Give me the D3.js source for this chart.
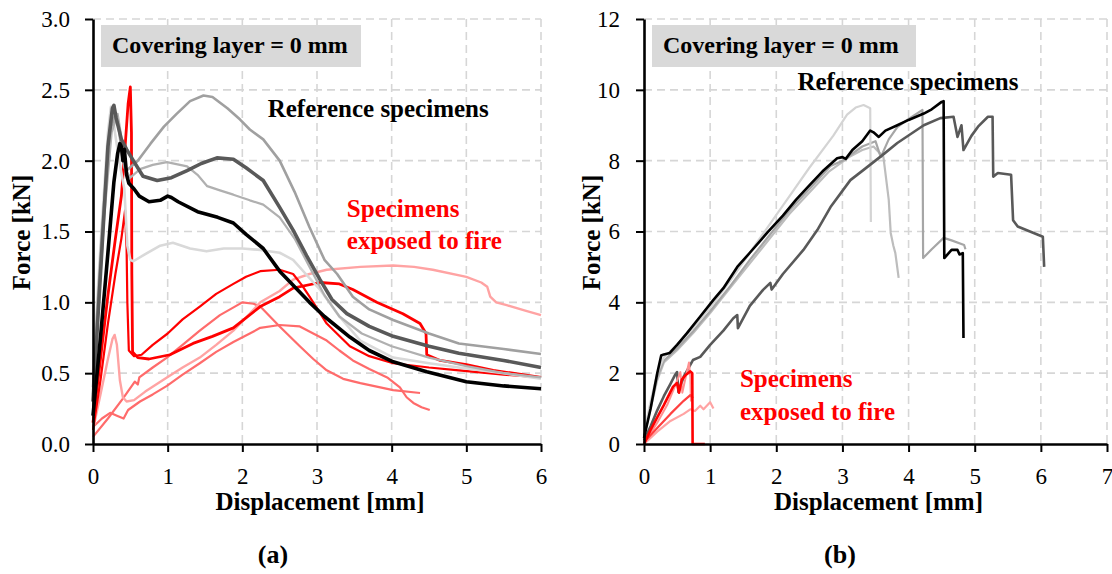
<!DOCTYPE html>
<html>
<head>
<meta charset="utf-8">
<script src="https://cdn.jsdelivr.net/npm/d3@7"></script>
<style>
  body { margin: 0; background: #fff; }
  svg text { font-family: "Liberation Serif", "Times New Roman", serif; }
</style>
</head>
<body>
<svg id="chart" width="1112" height="574"></svg>
<script>
// ---- panel (a): ticks ----
const xTicksA = [0, 1, 2, 3, 4, 5, 6];
const yTicksA = [0, 0.5, 1.0, 1.5, 2.0, 2.5, 3.0];

// ---- panel (a): reference specimens [displacement mm, force kN] ----
const refA_black = [[0,0.2],[0.1,0.75],[0.2,1.35],[0.28,1.85],[0.33,2.05],[0.36,2.12],[0.38,2.1],[0.4,2.0],[0.42,2.08],[0.45,1.9],[0.48,1.84],[0.55,1.8],[0.62,1.75],[0.75,1.71],[0.9,1.72],[1.0,1.75],[1.05,1.74],[1.14,1.71],[1.4,1.64],[1.67,1.6],[1.88,1.56],[2.05,1.48],[2.28,1.38],[2.5,1.22],[2.7,1.11],[2.9,1.0],[3.1,0.9],[3.44,0.755],[3.7,0.66],[4.02,0.58],[4.47,0.51],[5.0,0.44],[5.5,0.41],[6.0,0.39]];
const refA_dark = [[0,0.3],[0.1,1.2],[0.2,2.1],[0.26,2.37],[0.28,2.39],[0.31,2.3],[0.38,2.15],[0.45,2.08],[0.54,2.0],[0.67,1.89],[0.86,1.86],[1.05,1.88],[1.26,1.93],[1.45,1.98],[1.66,2.02],[1.88,2.01],[2.05,1.95],[2.28,1.86],[2.5,1.67],[2.68,1.51],[2.86,1.33],[3.04,1.16],[3.2,1.02],[3.4,0.92],[3.7,0.83],[4.02,0.76],[4.5,0.69],[4.9,0.64],[5.5,0.59],[6.0,0.54]];
const refA_mid1 = [[0,0.4],[0.12,1.5],[0.22,2.2],[0.3,2.33],[0.34,2.25],[0.4,2.0],[0.45,1.93],[0.6,2.0],[0.77,2.12],[0.95,2.24],[1.12,2.33],[1.3,2.42],[1.48,2.46],[1.6,2.45],[1.8,2.37],[1.97,2.29],[2.1,2.22],[2.28,2.15],[2.5,2.0],[2.7,1.78],[2.9,1.53],[3.1,1.3],[3.27,1.2],[3.48,1.04],[3.7,0.95],[4.02,0.875],[4.5,0.78],[4.9,0.71],[5.5,0.67],[6.0,0.635]];
const refA_mid2 = [[0,0.35],[0.15,1.6],[0.25,2.2],[0.33,2.33],[0.37,2.2],[0.42,1.95],[0.5,1.88],[0.63,1.94],[0.8,1.97],[0.99,1.99],[1.26,1.96],[1.4,1.9],[1.53,1.82],[1.7,1.79],[1.88,1.76],[2.1,1.72],[2.28,1.69],[2.5,1.6],[2.7,1.45],[2.9,1.25],[3.1,1.05],[3.3,0.9],[3.6,0.78],[4.0,0.69],[4.5,0.61],[5.0,0.55],[5.5,0.5],[6.0,0.47]];
const refA_light = [[0,0.5],[0.1,1.4],[0.2,2.2],[0.24,2.38],[0.28,2.25],[0.35,2.0],[0.42,1.8],[0.46,1.4],[0.5,1.3],[0.54,1.29],[0.7,1.34],[0.9,1.4],[1.07,1.42],[1.3,1.38],[1.52,1.36],[1.75,1.38],[2.0,1.38],[2.24,1.37],[2.5,1.35],[2.68,1.3],[2.85,1.2],[3.04,1.09],[3.3,0.9],[3.58,0.73],[4.02,0.61],[4.5,0.57],[4.9,0.54],[5.5,0.5],[6.0,0.46]];

// ---- panel (a): specimens exposed to fire ----
const fireA_spike = [[0,0.15],[0.1,0.6],[0.2,1.05],[0.3,1.45],[0.38,1.75],[0.43,2.1],[0.47,2.4],[0.5,2.52],[0.515,2.2],[0.52,1.2],[0.53,0.65],[0.6,0.61],[0.75,0.6],[1.03,0.63],[1.34,0.71],[1.6,0.76],[1.88,0.82],[2.24,0.97],[2.5,1.04],[2.68,1.1],[3.04,1.14],[3.3,1.13],[3.48,1.09],[3.8,1.0],[4.15,0.92],[4.38,0.85],[4.46,0.78],[4.47,0.63],[4.65,0.59],[5.0,0.56],[5.36,0.52],[6.0,0.47]];
const fireA_upper = [[0,0.1],[0.1,0.45],[0.2,0.85],[0.3,1.2],[0.38,1.45],[0.43,1.65],[0.44,1.5],[0.45,1.38],[0.46,1.0],[0.48,0.66],[0.55,0.62],[0.65,0.63],[0.8,0.7],[1.0,0.78],[1.2,0.88],[1.43,0.97],[1.65,1.06],[1.88,1.13],[2.05,1.18],[2.24,1.22],[2.5,1.23],[2.68,1.2],[2.8,1.12],[2.9,1.04],[3.13,0.85],[3.44,0.69],[3.7,0.62],[4.02,0.57],[4.5,0.54],[4.9,0.52],[5.5,0.49],[6.0,0.47]];
const fireA_pink = [[0,0.1],[0.1,0.35],[0.2,0.6],[0.26,0.74],[0.29,0.77],[0.32,0.7],[0.36,0.45],[0.4,0.33],[0.45,0.3],[0.55,0.31],[0.7,0.37],[0.99,0.47],[1.2,0.54],[1.43,0.61],[1.65,0.7],[1.88,0.8],[2.1,0.92],[2.24,1.0],[2.5,1.08],[2.68,1.16],[2.9,1.2],[3.13,1.23],[3.58,1.25],[4.02,1.26],[4.3,1.25],[4.55,1.23],[5.0,1.18],[5.2,1.14],[5.28,1.11],[5.32,1.04],[5.4,1.0],[5.54,0.98],[5.8,0.94],[6.0,0.91]];
const fireA_light1 = [[0,0.05],[0.2,0.18],[0.4,0.32],[0.56,0.44],[0.6,0.42],[0.62,0.47],[0.8,0.54],[0.99,0.61],[1.2,0.7],[1.43,0.8],[1.7,0.91],[2.0,1.0],[2.15,0.99],[2.24,0.97],[2.5,0.83],[2.77,0.69],[2.95,0.6],[3.13,0.52],[3.35,0.46],[3.58,0.43],[4.02,0.38],[4.38,0.36]];
const fireA_light2 = [[0,0.12],[0.12,0.18],[0.23,0.22],[0.32,0.2],[0.41,0.18],[0.47,0.24],[0.63,0.3],[0.8,0.35],[0.99,0.41],[1.2,0.49],[1.43,0.57],[1.65,0.65],[1.88,0.72],[2.1,0.78],[2.24,0.82],[2.5,0.84],[2.77,0.83],[2.95,0.78],[3.13,0.73],[3.3,0.66],[3.48,0.59],[3.7,0.53],[3.94,0.47],[4.11,0.4],[4.2,0.33],[4.29,0.29],[4.4,0.26],[4.51,0.24]];

// ---- panel (b): ticks ----
const xTicksB = [0, 1, 2, 3, 4, 5, 6, 7];
const yTicksB = [0, 2, 4, 6, 8, 10, 12];

// ---- panel (b): reference specimens ----
const refB_black = [[0,0.17],[0.1,1.0],[0.2,2.0],[0.26,2.5],[0.3,2.53],[0.39,2.57],[0.5,2.8],[0.65,3.13],[0.85,3.6],[1.05,4.07],[1.2,4.4],[1.41,5.0],[1.6,5.4],[1.86,5.96],[2.1,6.45],[2.3,6.9],[2.5,7.3],[2.7,7.7],[2.92,8.07],[3.0,8.1],[3.05,8.05],[3.15,8.3],[3.3,8.55],[3.42,8.85],[3.47,8.8],[3.55,8.67],[3.65,8.85],[3.83,9.0],[4.0,9.15],[4.23,9.33],[4.35,9.45],[4.5,9.66],[4.53,9.68],[4.54,5.25],[4.65,5.48],[4.74,5.48],[4.77,5.35],[4.82,5.39],[4.83,2.99]];
const refB_dark = [[0,0.1],[0.1,0.5],[0.2,0.95],[0.3,1.35],[0.4,1.7],[0.47,1.95],[0.5,2.03],[0.52,1.47],[0.6,1.9],[0.74,2.37],[0.85,2.46],[1.0,2.8],[1.2,3.2],[1.35,3.55],[1.41,3.64],[1.42,3.27],[1.6,3.9],[1.8,4.35],[1.91,4.55],[1.93,4.36],[2.1,4.8],[2.41,5.48],[2.62,6.04],[2.82,6.69],[3.12,7.45],[3.32,7.74],[3.6,8.15],[3.83,8.5],[4.23,9.0],[4.48,9.2],[4.68,9.24],[4.74,8.67],[4.8,9.0],[4.83,8.3],[4.95,8.7],[5.05,8.96],[5.2,9.24],[5.27,9.24],[5.28,7.55],[5.35,7.65],[5.55,7.6],[5.58,6.32],[5.65,6.14],[6.03,5.85],[6.05,5.0]];
const refB_light = [[0,0.3],[0.1,1.2],[0.2,2.0],[0.3,2.45],[0.5,2.8],[0.75,3.3],[1.0,3.85],[1.3,4.6],[1.6,5.4],[1.9,6.2],[2.2,7.0],[2.5,7.8],[2.86,8.7],[3.07,9.3],[3.2,9.5],[3.32,9.57],[3.42,9.48],[3.43,6.27]];
const refB_mid = [[0,0.25],[0.1,1.1],[0.2,1.9],[0.3,2.35],[0.5,2.7],[0.75,3.2],[1.0,3.75],[1.3,4.45],[1.6,5.2],[1.9,5.9],[2.2,6.6],[2.5,7.2],[2.82,7.85],[3.0,8.0],[3.3,8.4],[3.5,8.55],[3.58,8.1],[3.7,8.6],[3.83,8.95],[3.98,9.15],[4.1,9.3],[4.21,9.43],[4.22,5.25],[4.35,5.5],[4.53,5.82],[4.65,5.75],[4.84,5.62],[4.86,5.5]];
const refB_lightmid = [[0,0.2],[0.1,1.0],[0.2,1.8],[0.3,2.3],[0.5,2.65],[0.75,3.15],[1.0,3.7],[1.3,4.4],[1.6,5.1],[1.9,5.8],[2.2,6.5],[2.5,7.1],[2.8,7.7],[3.1,8.1],[3.3,8.3],[3.47,8.4],[3.62,8.1],[3.7,6.9],[3.73,5.96],[3.77,5.6],[3.8,5.39],[3.85,4.69]];

// ---- panel (b): specimens exposed to fire ----
const fireB_main = [[0,0],[0.1,0.4],[0.2,0.75],[0.3,1.1],[0.44,1.62],[0.5,1.72],[0.53,1.45],[0.57,1.81],[0.63,1.95],[0.7,2.05],[0.73,2.0],[0.735,0],[0.92,0]];
const fireB_second = [[0,0.05],[0.2,0.45],[0.4,0.85],[0.6,1.22],[0.7,1.38],[0.74,1.3]];
const fireB_pink = [[0,0],[0.2,0.6],[0.35,1.1],[0.45,1.55],[0.55,2.03],[0.58,1.45],[0.62,1.8],[0.68,2.3],[0.7,1.9],[0.71,1.2]];
const fireB_pink2 = [[0,0],[0.2,0.35],[0.4,0.65],[0.6,0.85],[0.7,0.98],[0.77,0.93],[0.85,1.08],[0.9,0.98],[1.0,1.18],[1.05,1.0]];

const svg = d3.select("#chart");
const gridColor = "#d6d6d6";
const serif = '"Liberation Serif", "Times New Roman", serif';

function drawPanel(p) {
  const x = d3.scaleLinear().domain(p.xDomain).range([p.left, p.right]);
  const y = d3.scaleLinear().domain(p.yDomain).range([p.bottom, p.top]);
  const g = svg.append("g");

  // dashed grid
  g.append("g").selectAll("line").data(p.xTicks.filter(d => d > 0)).join("line")
    .attr("x1", d => x(d)).attr("x2", d => x(d))
    .attr("y1", p.top).attr("y2", p.bottom)
    .attr("stroke", gridColor).attr("stroke-width", 1.6).attr("stroke-dasharray", "8,5");
  g.append("g").selectAll("line").data(p.yTicks.filter(d => d > 0)).join("line")
    .attr("x1", p.left).attr("x2", p.right)
    .attr("y1", d => y(d)).attr("y2", d => y(d))
    .attr("stroke", gridColor).attr("stroke-width", 1.6).attr("stroke-dasharray", "8,5");

  // curves
  const line = d3.line().x(d => x(d[0])).y(d => y(d[1]));
  g.append("g").selectAll("path").data(p.series).join("path")
    .attr("d", s => line(s.data))
    .attr("fill", "none")
    .attr("stroke", s => s.color)
    .attr("stroke-width", s => s.width)
    .attr("stroke-linejoin", "round");

  // axes
  const xAxis = g.append("g")
    .attr("transform", "translate(0," + p.bottom + ")")
    .call(d3.axisBottom(x).tickValues(p.xTicks).tickSize(8).tickSizeOuter(0).tickPadding(16).tickFormat(d3.format("d")));
  const yAxis = g.append("g")
    .attr("transform", "translate(" + p.left + ",0)")
    .call(d3.axisLeft(y).tickValues(p.yTicks).tickSize(8).tickSizeOuter(0).tickPadding(p.yPad).tickFormat(p.yFormat));
  [xAxis, yAxis].forEach(a => {
    a.attr("font-family", null).attr("font-size", null);
    a.select(".domain").attr("stroke", "#000").attr("stroke-width", 2.6);
    a.selectAll(".tick line").attr("stroke", "#000").attr("stroke-width", 2);
    a.selectAll(".tick text").style("font-family", serif).style("font-size", "23px").attr("fill", "#000");
  });

  // axis titles
  g.append("text")
    .attr("x", (p.left + p.right) / 2 + 3).attr("y", 510)
    .attr("text-anchor", "middle").attr("font-weight", "bold").attr("font-size", 25)
    .text("Displacement [mm]");
  g.append("text")
    .attr("transform", "translate(" + p.titleX + "," + ((p.top + p.bottom) / 2 + 1) + ") rotate(-90)")
    .attr("text-anchor", "middle").attr("font-weight", "bold").attr("font-size", 25)
    .text("Force [kN]");

  // covering layer box
  g.append("rect")
    .attr("x", p.left + 8).attr("y", 25).attr("width", p.boxW).attr("height", 42)
    .attr("fill", "#d9d9d9");
  g.append("text")
    .attr("x", p.left + 19).attr("y", 53)
    .attr("font-weight", "bold").attr("font-size", 24)
    .text("Covering layer = 0 mm");

  // annotations
  g.append("text")
    .attr("x", x(p.refAt[0])).attr("y", y(p.refAt[1]))
    .attr("font-weight", "bold").attr("font-size", 25)
    .text("Reference specimens");
  const fire = g.append("text")
    .attr("font-weight", "bold").attr("font-size", 25).attr("fill", "#ff0000");
  fire.append("tspan").attr("x", x(p.fireAt[0])).attr("y", y(p.fireAt[1])).text("Specimens");
  fire.append("tspan").attr("x", x(p.fireAt[0])).attr("dy", p.fireGap).text("exposed to fire");

  // panel label
  g.append("text")
    .attr("x", p.labelX).attr("y", 563)
    .attr("text-anchor", "middle").attr("font-weight", "bold").attr("font-size", 26)
    .text(p.label);
}

drawPanel({
  left: 93, right: 541, top: 19, bottom: 444,
  xDomain: [0, 6], yDomain: [0, 3],
  xTicks: xTicksA, yTicks: yTicksA, yFormat: d3.format(".1f"), yPad: 15,
  titleX: 30, boxW: 260, labelX: 273, label: "(a)",
  refAt: [2.34, 2.31], fireAt: [3.4, 1.6], fireGap: 32,
  series: [
    {data: fireA_light2, color: "#ff6b6b", width: 2.2},
    {data: fireA_light1, color: "#ff6b6b", width: 2.2},
    {data: fireA_pink, color: "#ffa3a3", width: 2.4},
    {data: fireA_upper, color: "#ff0000", width: 2.2},
    {data: fireA_spike, color: "#ff0000", width: 2.8},
    {data: refA_light, color: "#d9d9d9", width: 2.6},
    {data: refA_mid2, color: "#b0b0b0", width: 2.2},
    {data: refA_mid1, color: "#a0a0a0", width: 2.6},
    {data: refA_dark, color: "#595959", width: 3.6},
    {data: refA_black, color: "#000000", width: 3.6}
  ]
});

drawPanel({
  left: 644, right: 1107, top: 19, bottom: 444,
  xDomain: [0, 7], yDomain: [0, 12],
  xTicks: xTicksB, yTicks: yTicksB, yFormat: d3.format("d"), yPad: 16,
  titleX: 600, boxW: 264, labelX: 840, label: "(b)",
  refAt: [2.32, 9.99], fireAt: [1.45, 1.61], fireGap: 33,
  series: [
    {data: refB_lightmid, color: "#bdbdbd", width: 2.2},
    {data: refB_mid, color: "#a6a6a6", width: 2.2},
    {data: refB_light, color: "#d4d4d4", width: 2.2},
    {data: refB_dark, color: "#595959", width: 2.6},
    {data: refB_black, color: "#000000", width: 2.6},
    {data: fireB_pink2, color: "#ffa3a3", width: 2.2},
    {data: fireB_pink, color: "#ff9090", width: 2},
    {data: fireB_second, color: "#ff4040", width: 2.2},
    {data: fireB_main, color: "#ff0000", width: 2.6}
  ]
});
</script>
</body>
</html>
